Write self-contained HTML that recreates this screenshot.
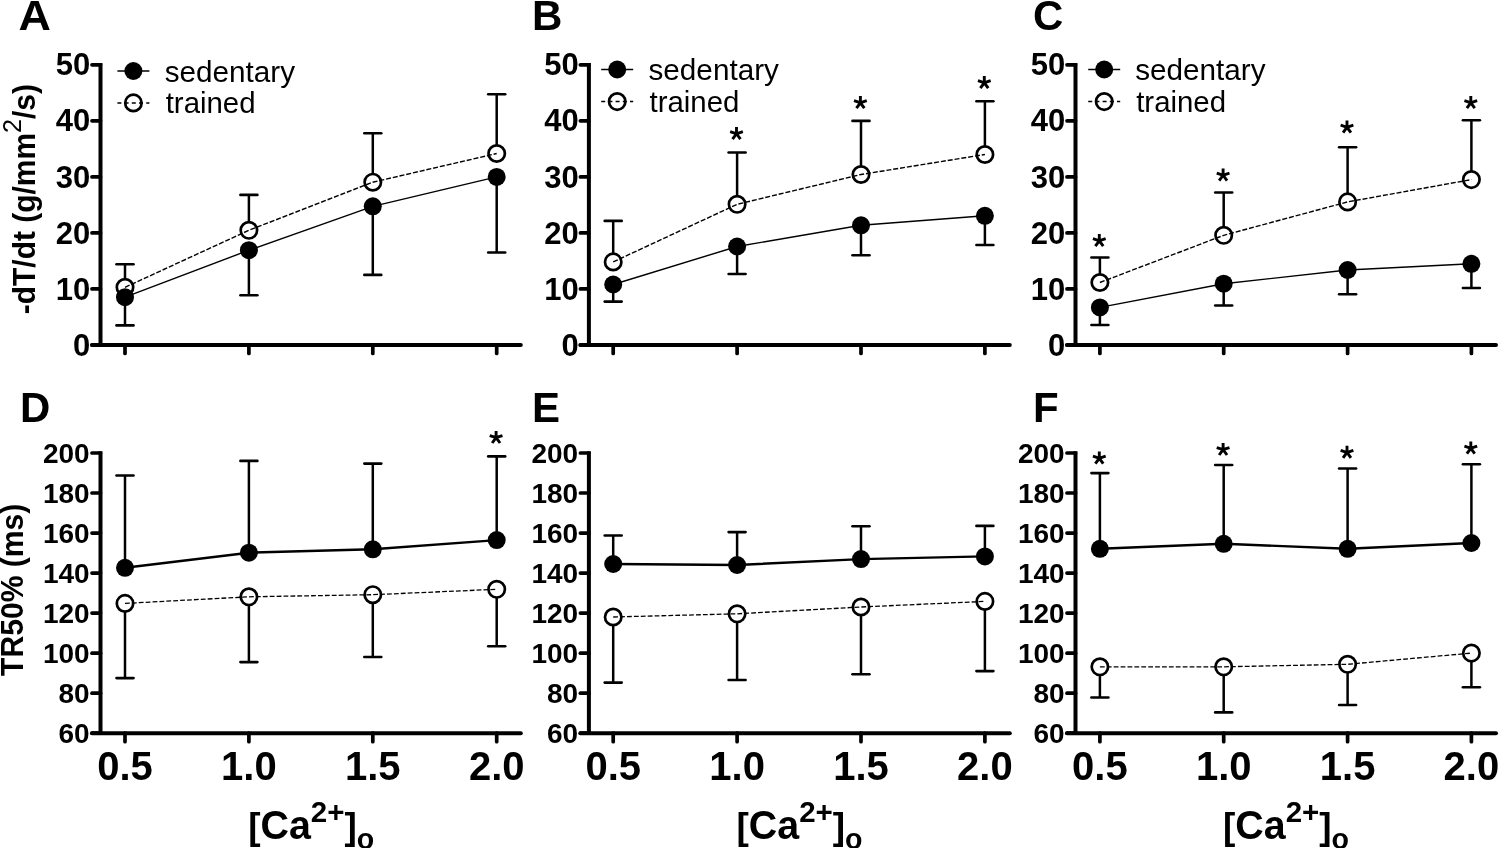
<!DOCTYPE html><html><head><meta charset="utf-8"><style>html,body{margin:0;padding:0;background:#fff;}svg{display:block;will-change:transform;}text{font-family:"Liberation Sans",sans-serif;fill:#000;}</style></head><body>
<svg width="1500" height="848" viewBox="0 0 1500 848">
<rect width="1500" height="848" fill="#fff"/>
<text x="532" y="30.3" font-size="42" font-weight="bold">B</text>
<text x="1033" y="30.4" font-size="42" font-weight="bold">C</text>
<text x="20" y="422.3" font-size="42" font-weight="bold">D</text>
<text x="532" y="422.3" font-size="42" font-weight="bold">E</text>
<text x="1033" y="422.3" font-size="42" font-weight="bold">F</text>
<text transform="translate(18.6,30.4) scale(1.045,1)" font-size="43" font-weight="bold">A</text>
<polyline points="125,287.3 248.9,230.3 372.8,182.2 496.7,153.5" fill="none" stroke="#000" stroke-width="1.4" stroke-dasharray="5,1.9"/>
<line x1="125" y1="279.1" x2="125" y2="264.3" stroke="#000" stroke-width="2.5"/>
<line x1="116.5" y1="264.3" x2="133.5" y2="264.3" stroke="#000" stroke-width="2.6" stroke-linecap="round"/>
<line x1="248.9" y1="222.10000000000002" x2="248.9" y2="194.9" stroke="#000" stroke-width="2.5"/>
<line x1="240.4" y1="194.9" x2="257.4" y2="194.9" stroke="#000" stroke-width="2.6" stroke-linecap="round"/>
<line x1="372.8" y1="174.0" x2="372.8" y2="133.2" stroke="#000" stroke-width="2.5"/>
<line x1="364.3" y1="133.2" x2="381.3" y2="133.2" stroke="#000" stroke-width="2.6" stroke-linecap="round"/>
<line x1="496.7" y1="145.3" x2="496.7" y2="94.2" stroke="#000" stroke-width="2.5"/>
<line x1="488.2" y1="94.2" x2="505.2" y2="94.2" stroke="#000" stroke-width="2.6" stroke-linecap="round"/>
<polyline points="125,297.2 248.9,250.2 372.8,206.3 496.7,176.9" fill="none" stroke="#000" stroke-width="1.4"/>
<line x1="125" y1="305.4" x2="125" y2="325.4" stroke="#000" stroke-width="2.5"/>
<line x1="116.5" y1="325.4" x2="133.5" y2="325.4" stroke="#000" stroke-width="2.6" stroke-linecap="round"/>
<line x1="248.9" y1="258.4" x2="248.9" y2="295.3" stroke="#000" stroke-width="2.5"/>
<line x1="240.4" y1="295.3" x2="257.4" y2="295.3" stroke="#000" stroke-width="2.6" stroke-linecap="round"/>
<line x1="372.8" y1="214.5" x2="372.8" y2="274.9" stroke="#000" stroke-width="2.5"/>
<line x1="364.3" y1="274.9" x2="381.3" y2="274.9" stroke="#000" stroke-width="2.6" stroke-linecap="round"/>
<line x1="496.7" y1="185.1" x2="496.7" y2="252.5" stroke="#000" stroke-width="2.5"/>
<line x1="488.2" y1="252.5" x2="505.2" y2="252.5" stroke="#000" stroke-width="2.6" stroke-linecap="round"/>
<circle cx="125" cy="287.3" r="8.2" fill="none" stroke="#000" stroke-width="2.7"/>
<circle cx="248.9" cy="230.3" r="8.2" fill="none" stroke="#000" stroke-width="2.7"/>
<circle cx="372.8" cy="182.2" r="8.2" fill="none" stroke="#000" stroke-width="2.7"/>
<circle cx="496.7" cy="153.5" r="8.2" fill="none" stroke="#000" stroke-width="2.7"/>
<circle cx="125" cy="297.2" r="9.0" fill="#000"/>
<circle cx="248.9" cy="250.2" r="9.0" fill="#000"/>
<circle cx="372.8" cy="206.3" r="9.0" fill="#000"/>
<circle cx="496.7" cy="176.9" r="9.0" fill="#000"/>
<line x1="100.5" y1="63.000000000000014" x2="100.5" y2="345" stroke="#000" stroke-width="4.0"/>
<line x1="92.0" y1="345" x2="520.8" y2="345" stroke="#000" stroke-width="4.0" stroke-linecap="round"/>
<line x1="92.0" y1="345.0" x2="100.5" y2="345.0" stroke="#000" stroke-width="3.7" stroke-linecap="round"/>
<text x="90.3" y="355.6" font-size="31" font-weight="bold" text-anchor="end">0</text>
<line x1="92.0" y1="288.96" x2="100.5" y2="288.96" stroke="#000" stroke-width="3.7" stroke-linecap="round"/>
<text x="90.3" y="299.6" font-size="31" font-weight="bold" text-anchor="end">10</text>
<line x1="92.0" y1="232.92000000000002" x2="100.5" y2="232.92000000000002" stroke="#000" stroke-width="3.7" stroke-linecap="round"/>
<text x="90.3" y="243.5" font-size="31" font-weight="bold" text-anchor="end">20</text>
<line x1="92.0" y1="176.88" x2="100.5" y2="176.88" stroke="#000" stroke-width="3.7" stroke-linecap="round"/>
<text x="90.3" y="187.5" font-size="31" font-weight="bold" text-anchor="end">30</text>
<line x1="92.0" y1="120.84" x2="100.5" y2="120.84" stroke="#000" stroke-width="3.7" stroke-linecap="round"/>
<text x="90.3" y="131.4" font-size="31" font-weight="bold" text-anchor="end">40</text>
<line x1="92.0" y1="64.80000000000001" x2="100.5" y2="64.80000000000001" stroke="#000" stroke-width="3.7" stroke-linecap="round"/>
<text x="90.3" y="75.4" font-size="31" font-weight="bold" text-anchor="end">50</text>
<line x1="125" y1="345" x2="125" y2="353.5" stroke="#000" stroke-width="3.7" stroke-linecap="round"/>
<line x1="248.9" y1="345" x2="248.9" y2="353.5" stroke="#000" stroke-width="3.7" stroke-linecap="round"/>
<line x1="372.8" y1="345" x2="372.8" y2="353.5" stroke="#000" stroke-width="3.7" stroke-linecap="round"/>
<line x1="496.7" y1="345" x2="496.7" y2="353.5" stroke="#000" stroke-width="3.7" stroke-linecap="round"/>
<polyline points="613.2,261.9 737.1,204.3 861.0,174.5 984.9,154.5" fill="none" stroke="#000" stroke-width="1.4" stroke-dasharray="5,1.9"/>
<line x1="613.2" y1="253.7" x2="613.2" y2="220.9" stroke="#000" stroke-width="2.5"/>
<line x1="604.7" y1="220.9" x2="621.7" y2="220.9" stroke="#000" stroke-width="2.6" stroke-linecap="round"/>
<line x1="737.1" y1="196.10000000000002" x2="737.1" y2="152.5" stroke="#000" stroke-width="2.5"/>
<line x1="728.6" y1="152.5" x2="745.6" y2="152.5" stroke="#000" stroke-width="2.6" stroke-linecap="round"/>
<line x1="861.0" y1="166.3" x2="861.0" y2="120.9" stroke="#000" stroke-width="2.5"/>
<line x1="852.5" y1="120.9" x2="869.5" y2="120.9" stroke="#000" stroke-width="2.6" stroke-linecap="round"/>
<line x1="984.9" y1="146.3" x2="984.9" y2="101.3" stroke="#000" stroke-width="2.5"/>
<line x1="976.4" y1="101.3" x2="993.4" y2="101.3" stroke="#000" stroke-width="2.6" stroke-linecap="round"/>
<polyline points="613.2,284.5 737.1,246.5 861.0,225.3 984.9,215.8" fill="none" stroke="#000" stroke-width="1.4"/>
<line x1="613.2" y1="292.7" x2="613.2" y2="301.6" stroke="#000" stroke-width="2.5"/>
<line x1="604.7" y1="301.6" x2="621.7" y2="301.6" stroke="#000" stroke-width="2.6" stroke-linecap="round"/>
<line x1="737.1" y1="254.7" x2="737.1" y2="274" stroke="#000" stroke-width="2.5"/>
<line x1="728.6" y1="274" x2="745.6" y2="274" stroke="#000" stroke-width="2.6" stroke-linecap="round"/>
<line x1="861.0" y1="233.5" x2="861.0" y2="255.3" stroke="#000" stroke-width="2.5"/>
<line x1="852.5" y1="255.3" x2="869.5" y2="255.3" stroke="#000" stroke-width="2.6" stroke-linecap="round"/>
<line x1="984.9" y1="224.0" x2="984.9" y2="245" stroke="#000" stroke-width="2.5"/>
<line x1="976.4" y1="245" x2="993.4" y2="245" stroke="#000" stroke-width="2.6" stroke-linecap="round"/>
<circle cx="613.2" cy="261.9" r="8.2" fill="none" stroke="#000" stroke-width="2.7"/>
<circle cx="737.1" cy="204.3" r="8.2" fill="none" stroke="#000" stroke-width="2.7"/>
<circle cx="861.0" cy="174.5" r="8.2" fill="none" stroke="#000" stroke-width="2.7"/>
<circle cx="984.9" cy="154.5" r="8.2" fill="none" stroke="#000" stroke-width="2.7"/>
<circle cx="613.2" cy="284.5" r="9.0" fill="#000"/>
<circle cx="737.1" cy="246.5" r="9.0" fill="#000"/>
<circle cx="861.0" cy="225.3" r="9.0" fill="#000"/>
<circle cx="984.9" cy="215.8" r="9.0" fill="#000"/>
<path d="M736.50 134.90L736.50 127.00M735.36 134.07L742.87 131.63M735.79 132.73L740.44 139.12M737.21 132.73L732.56 139.12M737.64 134.07L730.13 131.63" stroke="#000" stroke-width="2.9" fill="none"/>
<path d="M860.40 104.00L860.40 96.10M859.26 103.17L866.77 100.73M859.69 101.83L864.34 108.22M861.11 101.83L856.46 108.22M861.54 103.17L854.03 100.73" stroke="#000" stroke-width="2.9" fill="none"/>
<path d="M984.30 84.00L984.30 76.10M983.16 83.17L990.67 80.73M983.59 81.83L988.24 88.22M985.01 81.83L980.36 88.22M985.44 83.17L977.93 80.73" stroke="#000" stroke-width="2.9" fill="none"/>
<line x1="588.9" y1="63.000000000000014" x2="588.9" y2="345" stroke="#000" stroke-width="4.0"/>
<line x1="580.4" y1="345" x2="1009.8" y2="345" stroke="#000" stroke-width="4.0" stroke-linecap="round"/>
<line x1="580.4" y1="345.0" x2="588.9" y2="345.0" stroke="#000" stroke-width="3.7" stroke-linecap="round"/>
<text x="578.7" y="355.6" font-size="31" font-weight="bold" text-anchor="end">0</text>
<line x1="580.4" y1="288.96" x2="588.9" y2="288.96" stroke="#000" stroke-width="3.7" stroke-linecap="round"/>
<text x="578.7" y="299.6" font-size="31" font-weight="bold" text-anchor="end">10</text>
<line x1="580.4" y1="232.92000000000002" x2="588.9" y2="232.92000000000002" stroke="#000" stroke-width="3.7" stroke-linecap="round"/>
<text x="578.7" y="243.5" font-size="31" font-weight="bold" text-anchor="end">20</text>
<line x1="580.4" y1="176.88" x2="588.9" y2="176.88" stroke="#000" stroke-width="3.7" stroke-linecap="round"/>
<text x="578.7" y="187.5" font-size="31" font-weight="bold" text-anchor="end">30</text>
<line x1="580.4" y1="120.84" x2="588.9" y2="120.84" stroke="#000" stroke-width="3.7" stroke-linecap="round"/>
<text x="578.7" y="131.4" font-size="31" font-weight="bold" text-anchor="end">40</text>
<line x1="580.4" y1="64.80000000000001" x2="588.9" y2="64.80000000000001" stroke="#000" stroke-width="3.7" stroke-linecap="round"/>
<text x="578.7" y="75.4" font-size="31" font-weight="bold" text-anchor="end">50</text>
<line x1="613.2" y1="345" x2="613.2" y2="353.5" stroke="#000" stroke-width="3.7" stroke-linecap="round"/>
<line x1="737.1" y1="345" x2="737.1" y2="353.5" stroke="#000" stroke-width="3.7" stroke-linecap="round"/>
<line x1="861.0" y1="345" x2="861.0" y2="353.5" stroke="#000" stroke-width="3.7" stroke-linecap="round"/>
<line x1="984.9" y1="345" x2="984.9" y2="353.5" stroke="#000" stroke-width="3.7" stroke-linecap="round"/>
<polyline points="1099.9,282.5 1223.7,235.3 1347.6,201.9 1471.4,179.6" fill="none" stroke="#000" stroke-width="1.4" stroke-dasharray="5,1.9"/>
<line x1="1099.9" y1="274.3" x2="1099.9" y2="257.5" stroke="#000" stroke-width="2.5"/>
<line x1="1091.4" y1="257.5" x2="1108.4" y2="257.5" stroke="#000" stroke-width="2.6" stroke-linecap="round"/>
<line x1="1223.7" y1="227.10000000000002" x2="1223.7" y2="192.5" stroke="#000" stroke-width="2.5"/>
<line x1="1215.2" y1="192.5" x2="1232.2" y2="192.5" stroke="#000" stroke-width="2.6" stroke-linecap="round"/>
<line x1="1347.6" y1="193.70000000000002" x2="1347.6" y2="147.3" stroke="#000" stroke-width="2.5"/>
<line x1="1339.1" y1="147.3" x2="1356.1" y2="147.3" stroke="#000" stroke-width="2.6" stroke-linecap="round"/>
<line x1="1471.4" y1="171.4" x2="1471.4" y2="120.3" stroke="#000" stroke-width="2.5"/>
<line x1="1462.9" y1="120.3" x2="1479.9" y2="120.3" stroke="#000" stroke-width="2.6" stroke-linecap="round"/>
<polyline points="1099.9,307.4 1223.7,283.7 1347.6,270 1471.4,263.8" fill="none" stroke="#000" stroke-width="1.4"/>
<line x1="1099.9" y1="315.59999999999997" x2="1099.9" y2="325" stroke="#000" stroke-width="2.5"/>
<line x1="1091.4" y1="325" x2="1108.4" y2="325" stroke="#000" stroke-width="2.6" stroke-linecap="round"/>
<line x1="1223.7" y1="291.9" x2="1223.7" y2="305.5" stroke="#000" stroke-width="2.5"/>
<line x1="1215.2" y1="305.5" x2="1232.2" y2="305.5" stroke="#000" stroke-width="2.6" stroke-linecap="round"/>
<line x1="1347.6" y1="278.2" x2="1347.6" y2="294.3" stroke="#000" stroke-width="2.5"/>
<line x1="1339.1" y1="294.3" x2="1356.1" y2="294.3" stroke="#000" stroke-width="2.6" stroke-linecap="round"/>
<line x1="1471.4" y1="272.0" x2="1471.4" y2="288" stroke="#000" stroke-width="2.5"/>
<line x1="1462.9" y1="288" x2="1479.9" y2="288" stroke="#000" stroke-width="2.6" stroke-linecap="round"/>
<circle cx="1099.9" cy="282.5" r="8.2" fill="none" stroke="#000" stroke-width="2.7"/>
<circle cx="1223.7" cy="235.3" r="8.2" fill="none" stroke="#000" stroke-width="2.7"/>
<circle cx="1347.6" cy="201.9" r="8.2" fill="none" stroke="#000" stroke-width="2.7"/>
<circle cx="1471.4" cy="179.6" r="8.2" fill="none" stroke="#000" stroke-width="2.7"/>
<circle cx="1099.9" cy="307.4" r="9.0" fill="#000"/>
<circle cx="1223.7" cy="283.7" r="9.0" fill="#000"/>
<circle cx="1347.6" cy="270" r="9.0" fill="#000"/>
<circle cx="1471.4" cy="263.8" r="9.0" fill="#000"/>
<path d="M1099.30 242.00L1099.30 234.10M1098.16 241.17L1105.67 238.73M1098.59 239.83L1103.24 246.22M1100.01 239.83L1095.36 246.22M1100.44 241.17L1092.93 238.73" stroke="#000" stroke-width="2.9" fill="none"/>
<path d="M1223.10 176.40L1223.10 168.50M1221.96 175.57L1229.47 173.13M1222.39 174.23L1227.04 180.62M1223.81 174.23L1219.16 180.62M1224.24 175.57L1216.73 173.13" stroke="#000" stroke-width="2.9" fill="none"/>
<path d="M1347.00 128.50L1347.00 120.60M1345.86 127.67L1353.37 125.23M1346.29 126.33L1350.94 132.72M1347.71 126.33L1343.06 132.72M1348.14 127.67L1340.63 125.23" stroke="#000" stroke-width="2.9" fill="none"/>
<path d="M1470.80 104.00L1470.80 96.10M1469.66 103.17L1477.17 100.73M1470.09 101.83L1474.74 108.22M1471.51 101.83L1466.86 108.22M1471.94 103.17L1464.43 100.73" stroke="#000" stroke-width="2.9" fill="none"/>
<line x1="1075.5" y1="63.000000000000014" x2="1075.5" y2="345" stroke="#000" stroke-width="4.0"/>
<line x1="1067.0" y1="345" x2="1496" y2="345" stroke="#000" stroke-width="4.0" stroke-linecap="round"/>
<line x1="1067.0" y1="345.0" x2="1075.5" y2="345.0" stroke="#000" stroke-width="3.7" stroke-linecap="round"/>
<text x="1065.3" y="355.6" font-size="31" font-weight="bold" text-anchor="end">0</text>
<line x1="1067.0" y1="288.96" x2="1075.5" y2="288.96" stroke="#000" stroke-width="3.7" stroke-linecap="round"/>
<text x="1065.3" y="299.6" font-size="31" font-weight="bold" text-anchor="end">10</text>
<line x1="1067.0" y1="232.92000000000002" x2="1075.5" y2="232.92000000000002" stroke="#000" stroke-width="3.7" stroke-linecap="round"/>
<text x="1065.3" y="243.5" font-size="31" font-weight="bold" text-anchor="end">20</text>
<line x1="1067.0" y1="176.88" x2="1075.5" y2="176.88" stroke="#000" stroke-width="3.7" stroke-linecap="round"/>
<text x="1065.3" y="187.5" font-size="31" font-weight="bold" text-anchor="end">30</text>
<line x1="1067.0" y1="120.84" x2="1075.5" y2="120.84" stroke="#000" stroke-width="3.7" stroke-linecap="round"/>
<text x="1065.3" y="131.4" font-size="31" font-weight="bold" text-anchor="end">40</text>
<line x1="1067.0" y1="64.80000000000001" x2="1075.5" y2="64.80000000000001" stroke="#000" stroke-width="3.7" stroke-linecap="round"/>
<text x="1065.3" y="75.4" font-size="31" font-weight="bold" text-anchor="end">50</text>
<line x1="1099.9" y1="345" x2="1099.9" y2="353.5" stroke="#000" stroke-width="3.7" stroke-linecap="round"/>
<line x1="1223.7" y1="345" x2="1223.7" y2="353.5" stroke="#000" stroke-width="3.7" stroke-linecap="round"/>
<line x1="1347.6" y1="345" x2="1347.6" y2="353.5" stroke="#000" stroke-width="3.7" stroke-linecap="round"/>
<line x1="1471.4" y1="345" x2="1471.4" y2="353.5" stroke="#000" stroke-width="3.7" stroke-linecap="round"/>
<polyline points="125,603.4 248.9,596.8 372.8,594.7 496.7,589.3" fill="none" stroke="#000" stroke-width="1.3" stroke-dasharray="4.8,2.1"/>
<line x1="125" y1="611.6" x2="125" y2="678.1" stroke="#000" stroke-width="2.5"/>
<line x1="116.5" y1="678.1" x2="133.5" y2="678.1" stroke="#000" stroke-width="2.6" stroke-linecap="round"/>
<line x1="248.9" y1="605.0" x2="248.9" y2="662.1" stroke="#000" stroke-width="2.5"/>
<line x1="240.4" y1="662.1" x2="257.4" y2="662.1" stroke="#000" stroke-width="2.6" stroke-linecap="round"/>
<line x1="372.8" y1="602.9000000000001" x2="372.8" y2="657" stroke="#000" stroke-width="2.5"/>
<line x1="364.3" y1="657" x2="381.3" y2="657" stroke="#000" stroke-width="2.6" stroke-linecap="round"/>
<line x1="496.7" y1="597.5" x2="496.7" y2="646.2" stroke="#000" stroke-width="2.5"/>
<line x1="488.2" y1="646.2" x2="505.2" y2="646.2" stroke="#000" stroke-width="2.6" stroke-linecap="round"/>
<polyline points="125,567.8 248.9,552.7 372.8,549.3 496.7,540.1" fill="none" stroke="#000" stroke-width="2.4"/>
<line x1="125" y1="559.5999999999999" x2="125" y2="475.5" stroke="#000" stroke-width="2.5"/>
<line x1="116.5" y1="475.5" x2="133.5" y2="475.5" stroke="#000" stroke-width="2.6" stroke-linecap="round"/>
<line x1="248.9" y1="544.5" x2="248.9" y2="460.9" stroke="#000" stroke-width="2.5"/>
<line x1="240.4" y1="460.9" x2="257.4" y2="460.9" stroke="#000" stroke-width="2.6" stroke-linecap="round"/>
<line x1="372.8" y1="541.0999999999999" x2="372.8" y2="463.6" stroke="#000" stroke-width="2.5"/>
<line x1="364.3" y1="463.6" x2="381.3" y2="463.6" stroke="#000" stroke-width="2.6" stroke-linecap="round"/>
<line x1="496.7" y1="531.9" x2="496.7" y2="456.4" stroke="#000" stroke-width="2.5"/>
<line x1="488.2" y1="456.4" x2="505.2" y2="456.4" stroke="#000" stroke-width="2.6" stroke-linecap="round"/>
<circle cx="125" cy="603.4" r="8.2" fill="none" stroke="#000" stroke-width="2.7"/>
<circle cx="248.9" cy="596.8" r="8.2" fill="none" stroke="#000" stroke-width="2.7"/>
<circle cx="372.8" cy="594.7" r="8.2" fill="none" stroke="#000" stroke-width="2.7"/>
<circle cx="496.7" cy="589.3" r="8.2" fill="none" stroke="#000" stroke-width="2.7"/>
<circle cx="125" cy="567.8" r="9.0" fill="#000"/>
<circle cx="248.9" cy="552.7" r="9.0" fill="#000"/>
<circle cx="372.8" cy="549.3" r="9.0" fill="#000"/>
<circle cx="496.7" cy="540.1" r="9.0" fill="#000"/>
<path d="M496.10 438.80L496.10 430.90M494.96 437.97L502.47 435.53M495.39 436.63L500.04 443.02M496.81 436.63L492.16 443.02M497.24 437.97L489.73 435.53" stroke="#000" stroke-width="2.9" fill="none"/>
<line x1="100.5" y1="451.19" x2="100.5" y2="733.2" stroke="#000" stroke-width="4.0"/>
<line x1="92.0" y1="733.2" x2="520.8" y2="733.2" stroke="#000" stroke-width="4.0" stroke-linecap="round"/>
<line x1="92.0" y1="733.2" x2="100.5" y2="733.2" stroke="#000" stroke-width="3.7" stroke-linecap="round"/>
<text x="89.7" y="743.2" font-size="28" font-weight="bold" text-anchor="end">60</text>
<line x1="92.0" y1="693.1700000000001" x2="100.5" y2="693.1700000000001" stroke="#000" stroke-width="3.7" stroke-linecap="round"/>
<text x="89.7" y="703.2" font-size="28" font-weight="bold" text-anchor="end">80</text>
<line x1="92.0" y1="653.1400000000001" x2="100.5" y2="653.1400000000001" stroke="#000" stroke-width="3.7" stroke-linecap="round"/>
<text x="89.7" y="663.2" font-size="28" font-weight="bold" text-anchor="end">100</text>
<line x1="92.0" y1="613.11" x2="100.5" y2="613.11" stroke="#000" stroke-width="3.7" stroke-linecap="round"/>
<text x="89.7" y="623.1" font-size="28" font-weight="bold" text-anchor="end">120</text>
<line x1="92.0" y1="573.08" x2="100.5" y2="573.08" stroke="#000" stroke-width="3.7" stroke-linecap="round"/>
<text x="89.7" y="583.1" font-size="28" font-weight="bold" text-anchor="end">140</text>
<line x1="92.0" y1="533.0500000000001" x2="100.5" y2="533.0500000000001" stroke="#000" stroke-width="3.7" stroke-linecap="round"/>
<text x="89.7" y="543.1" font-size="28" font-weight="bold" text-anchor="end">160</text>
<line x1="92.0" y1="493.02000000000004" x2="100.5" y2="493.02000000000004" stroke="#000" stroke-width="3.7" stroke-linecap="round"/>
<text x="89.7" y="503.0" font-size="28" font-weight="bold" text-anchor="end">180</text>
<line x1="92.0" y1="452.99" x2="100.5" y2="452.99" stroke="#000" stroke-width="3.7" stroke-linecap="round"/>
<text x="89.7" y="463.0" font-size="28" font-weight="bold" text-anchor="end">200</text>
<line x1="125" y1="733.2" x2="125" y2="741.7" stroke="#000" stroke-width="3.7" stroke-linecap="round"/>
<line x1="248.9" y1="733.2" x2="248.9" y2="741.7" stroke="#000" stroke-width="3.7" stroke-linecap="round"/>
<line x1="372.8" y1="733.2" x2="372.8" y2="741.7" stroke="#000" stroke-width="3.7" stroke-linecap="round"/>
<line x1="496.7" y1="733.2" x2="496.7" y2="741.7" stroke="#000" stroke-width="3.7" stroke-linecap="round"/>
<text x="125" y="780.0" font-size="40" font-weight="bold" text-anchor="middle">0.5</text>
<text x="248.9" y="780.0" font-size="40" font-weight="bold" text-anchor="middle">1.0</text>
<text x="372.8" y="780.0" font-size="40" font-weight="bold" text-anchor="middle">1.5</text>
<text x="496.7" y="780.0" font-size="40" font-weight="bold" text-anchor="middle">2.0</text>
<polyline points="613.2,617 737.1,613.8 861.0,607 984.9,601.4" fill="none" stroke="#000" stroke-width="1.3" stroke-dasharray="4.8,2.1"/>
<line x1="613.2" y1="625.2" x2="613.2" y2="682.6" stroke="#000" stroke-width="2.5"/>
<line x1="604.7" y1="682.6" x2="621.7" y2="682.6" stroke="#000" stroke-width="2.6" stroke-linecap="round"/>
<line x1="737.1" y1="622.0" x2="737.1" y2="680" stroke="#000" stroke-width="2.5"/>
<line x1="728.6" y1="680" x2="745.6" y2="680" stroke="#000" stroke-width="2.6" stroke-linecap="round"/>
<line x1="861.0" y1="615.2" x2="861.0" y2="674.3" stroke="#000" stroke-width="2.5"/>
<line x1="852.5" y1="674.3" x2="869.5" y2="674.3" stroke="#000" stroke-width="2.6" stroke-linecap="round"/>
<line x1="984.9" y1="609.6" x2="984.9" y2="671.1" stroke="#000" stroke-width="2.5"/>
<line x1="976.4" y1="671.1" x2="993.4" y2="671.1" stroke="#000" stroke-width="2.6" stroke-linecap="round"/>
<polyline points="613.2,564 737.1,565 861.0,559.1 984.9,556.4" fill="none" stroke="#000" stroke-width="2.4"/>
<line x1="613.2" y1="555.8" x2="613.2" y2="535.5" stroke="#000" stroke-width="2.5"/>
<line x1="604.7" y1="535.5" x2="621.7" y2="535.5" stroke="#000" stroke-width="2.6" stroke-linecap="round"/>
<line x1="737.1" y1="556.8" x2="737.1" y2="532.1" stroke="#000" stroke-width="2.5"/>
<line x1="728.6" y1="532.1" x2="745.6" y2="532.1" stroke="#000" stroke-width="2.6" stroke-linecap="round"/>
<line x1="861.0" y1="550.9" x2="861.0" y2="526.3" stroke="#000" stroke-width="2.5"/>
<line x1="852.5" y1="526.3" x2="869.5" y2="526.3" stroke="#000" stroke-width="2.6" stroke-linecap="round"/>
<line x1="984.9" y1="548.1999999999999" x2="984.9" y2="525.9" stroke="#000" stroke-width="2.5"/>
<line x1="976.4" y1="525.9" x2="993.4" y2="525.9" stroke="#000" stroke-width="2.6" stroke-linecap="round"/>
<circle cx="613.2" cy="617" r="8.2" fill="none" stroke="#000" stroke-width="2.7"/>
<circle cx="737.1" cy="613.8" r="8.2" fill="none" stroke="#000" stroke-width="2.7"/>
<circle cx="861.0" cy="607" r="8.2" fill="none" stroke="#000" stroke-width="2.7"/>
<circle cx="984.9" cy="601.4" r="8.2" fill="none" stroke="#000" stroke-width="2.7"/>
<circle cx="613.2" cy="564" r="9.0" fill="#000"/>
<circle cx="737.1" cy="565" r="9.0" fill="#000"/>
<circle cx="861.0" cy="559.1" r="9.0" fill="#000"/>
<circle cx="984.9" cy="556.4" r="9.0" fill="#000"/>
<line x1="588.9" y1="451.19" x2="588.9" y2="733.2" stroke="#000" stroke-width="4.0"/>
<line x1="580.4" y1="733.2" x2="1009.8" y2="733.2" stroke="#000" stroke-width="4.0" stroke-linecap="round"/>
<line x1="580.4" y1="733.2" x2="588.9" y2="733.2" stroke="#000" stroke-width="3.7" stroke-linecap="round"/>
<text x="578.1" y="743.2" font-size="28" font-weight="bold" text-anchor="end">60</text>
<line x1="580.4" y1="693.1700000000001" x2="588.9" y2="693.1700000000001" stroke="#000" stroke-width="3.7" stroke-linecap="round"/>
<text x="578.1" y="703.2" font-size="28" font-weight="bold" text-anchor="end">80</text>
<line x1="580.4" y1="653.1400000000001" x2="588.9" y2="653.1400000000001" stroke="#000" stroke-width="3.7" stroke-linecap="round"/>
<text x="578.1" y="663.2" font-size="28" font-weight="bold" text-anchor="end">100</text>
<line x1="580.4" y1="613.11" x2="588.9" y2="613.11" stroke="#000" stroke-width="3.7" stroke-linecap="round"/>
<text x="578.1" y="623.1" font-size="28" font-weight="bold" text-anchor="end">120</text>
<line x1="580.4" y1="573.08" x2="588.9" y2="573.08" stroke="#000" stroke-width="3.7" stroke-linecap="round"/>
<text x="578.1" y="583.1" font-size="28" font-weight="bold" text-anchor="end">140</text>
<line x1="580.4" y1="533.0500000000001" x2="588.9" y2="533.0500000000001" stroke="#000" stroke-width="3.7" stroke-linecap="round"/>
<text x="578.1" y="543.1" font-size="28" font-weight="bold" text-anchor="end">160</text>
<line x1="580.4" y1="493.02000000000004" x2="588.9" y2="493.02000000000004" stroke="#000" stroke-width="3.7" stroke-linecap="round"/>
<text x="578.1" y="503.0" font-size="28" font-weight="bold" text-anchor="end">180</text>
<line x1="580.4" y1="452.99" x2="588.9" y2="452.99" stroke="#000" stroke-width="3.7" stroke-linecap="round"/>
<text x="578.1" y="463.0" font-size="28" font-weight="bold" text-anchor="end">200</text>
<line x1="613.2" y1="733.2" x2="613.2" y2="741.7" stroke="#000" stroke-width="3.7" stroke-linecap="round"/>
<line x1="737.1" y1="733.2" x2="737.1" y2="741.7" stroke="#000" stroke-width="3.7" stroke-linecap="round"/>
<line x1="861.0" y1="733.2" x2="861.0" y2="741.7" stroke="#000" stroke-width="3.7" stroke-linecap="round"/>
<line x1="984.9" y1="733.2" x2="984.9" y2="741.7" stroke="#000" stroke-width="3.7" stroke-linecap="round"/>
<text x="613.2" y="780.0" font-size="40" font-weight="bold" text-anchor="middle">0.5</text>
<text x="737.1" y="780.0" font-size="40" font-weight="bold" text-anchor="middle">1.0</text>
<text x="861.0" y="780.0" font-size="40" font-weight="bold" text-anchor="middle">1.5</text>
<text x="984.9" y="780.0" font-size="40" font-weight="bold" text-anchor="middle">2.0</text>
<polyline points="1099.9,666.8 1223.7,666.8 1347.6,664.3 1471.4,653.1" fill="none" stroke="#000" stroke-width="1.3" stroke-dasharray="4.8,2.1"/>
<line x1="1099.9" y1="675.0" x2="1099.9" y2="697.5" stroke="#000" stroke-width="2.5"/>
<line x1="1091.4" y1="697.5" x2="1108.4" y2="697.5" stroke="#000" stroke-width="2.6" stroke-linecap="round"/>
<line x1="1223.7" y1="675.0" x2="1223.7" y2="712.4" stroke="#000" stroke-width="2.5"/>
<line x1="1215.2" y1="712.4" x2="1232.2" y2="712.4" stroke="#000" stroke-width="2.6" stroke-linecap="round"/>
<line x1="1347.6" y1="672.5" x2="1347.6" y2="705" stroke="#000" stroke-width="2.5"/>
<line x1="1339.1" y1="705" x2="1356.1" y2="705" stroke="#000" stroke-width="2.6" stroke-linecap="round"/>
<line x1="1471.4" y1="661.3000000000001" x2="1471.4" y2="687.3" stroke="#000" stroke-width="2.5"/>
<line x1="1462.9" y1="687.3" x2="1479.9" y2="687.3" stroke="#000" stroke-width="2.6" stroke-linecap="round"/>
<polyline points="1099.9,548.8 1223.7,543.8 1347.6,548.8 1471.4,543" fill="none" stroke="#000" stroke-width="2.4"/>
<line x1="1099.9" y1="540.5999999999999" x2="1099.9" y2="473.1" stroke="#000" stroke-width="2.5"/>
<line x1="1091.4" y1="473.1" x2="1108.4" y2="473.1" stroke="#000" stroke-width="2.6" stroke-linecap="round"/>
<line x1="1223.7" y1="535.5999999999999" x2="1223.7" y2="465" stroke="#000" stroke-width="2.5"/>
<line x1="1215.2" y1="465" x2="1232.2" y2="465" stroke="#000" stroke-width="2.6" stroke-linecap="round"/>
<line x1="1347.6" y1="540.5999999999999" x2="1347.6" y2="468.5" stroke="#000" stroke-width="2.5"/>
<line x1="1339.1" y1="468.5" x2="1356.1" y2="468.5" stroke="#000" stroke-width="2.6" stroke-linecap="round"/>
<line x1="1471.4" y1="534.8" x2="1471.4" y2="464.2" stroke="#000" stroke-width="2.5"/>
<line x1="1462.9" y1="464.2" x2="1479.9" y2="464.2" stroke="#000" stroke-width="2.6" stroke-linecap="round"/>
<circle cx="1099.9" cy="666.8" r="8.2" fill="none" stroke="#000" stroke-width="2.7"/>
<circle cx="1223.7" cy="666.8" r="8.2" fill="none" stroke="#000" stroke-width="2.7"/>
<circle cx="1347.6" cy="664.3" r="8.2" fill="none" stroke="#000" stroke-width="2.7"/>
<circle cx="1471.4" cy="653.1" r="8.2" fill="none" stroke="#000" stroke-width="2.7"/>
<circle cx="1099.9" cy="548.8" r="9.0" fill="#000"/>
<circle cx="1223.7" cy="543.8" r="9.0" fill="#000"/>
<circle cx="1347.6" cy="548.8" r="9.0" fill="#000"/>
<circle cx="1471.4" cy="543" r="9.0" fill="#000"/>
<path d="M1099.30 459.50L1099.30 451.60M1098.16 458.67L1105.67 456.23M1098.59 457.33L1103.24 463.72M1100.01 457.33L1095.36 463.72M1100.44 458.67L1092.93 456.23" stroke="#000" stroke-width="2.9" fill="none"/>
<path d="M1223.10 450.80L1223.10 442.90M1221.96 449.97L1229.47 447.53M1222.39 448.63L1227.04 455.02M1223.81 448.63L1219.16 455.02M1224.24 449.97L1216.73 447.53" stroke="#000" stroke-width="2.9" fill="none"/>
<path d="M1347.00 453.60L1347.00 445.70M1345.86 452.77L1353.37 450.33M1346.29 451.43L1350.94 457.82M1347.71 451.43L1343.06 457.82M1348.14 452.77L1340.63 450.33" stroke="#000" stroke-width="2.9" fill="none"/>
<path d="M1470.80 449.50L1470.80 441.60M1469.66 448.67L1477.17 446.23M1470.09 447.33L1474.74 453.72M1471.51 447.33L1466.86 453.72M1471.94 448.67L1464.43 446.23" stroke="#000" stroke-width="2.9" fill="none"/>
<line x1="1075.5" y1="451.19" x2="1075.5" y2="733.2" stroke="#000" stroke-width="4.0"/>
<line x1="1067.0" y1="733.2" x2="1496" y2="733.2" stroke="#000" stroke-width="4.0" stroke-linecap="round"/>
<line x1="1067.0" y1="733.2" x2="1075.5" y2="733.2" stroke="#000" stroke-width="3.7" stroke-linecap="round"/>
<text x="1064.7" y="743.2" font-size="28" font-weight="bold" text-anchor="end">60</text>
<line x1="1067.0" y1="693.1700000000001" x2="1075.5" y2="693.1700000000001" stroke="#000" stroke-width="3.7" stroke-linecap="round"/>
<text x="1064.7" y="703.2" font-size="28" font-weight="bold" text-anchor="end">80</text>
<line x1="1067.0" y1="653.1400000000001" x2="1075.5" y2="653.1400000000001" stroke="#000" stroke-width="3.7" stroke-linecap="round"/>
<text x="1064.7" y="663.2" font-size="28" font-weight="bold" text-anchor="end">100</text>
<line x1="1067.0" y1="613.11" x2="1075.5" y2="613.11" stroke="#000" stroke-width="3.7" stroke-linecap="round"/>
<text x="1064.7" y="623.1" font-size="28" font-weight="bold" text-anchor="end">120</text>
<line x1="1067.0" y1="573.08" x2="1075.5" y2="573.08" stroke="#000" stroke-width="3.7" stroke-linecap="round"/>
<text x="1064.7" y="583.1" font-size="28" font-weight="bold" text-anchor="end">140</text>
<line x1="1067.0" y1="533.0500000000001" x2="1075.5" y2="533.0500000000001" stroke="#000" stroke-width="3.7" stroke-linecap="round"/>
<text x="1064.7" y="543.1" font-size="28" font-weight="bold" text-anchor="end">160</text>
<line x1="1067.0" y1="493.02000000000004" x2="1075.5" y2="493.02000000000004" stroke="#000" stroke-width="3.7" stroke-linecap="round"/>
<text x="1064.7" y="503.0" font-size="28" font-weight="bold" text-anchor="end">180</text>
<line x1="1067.0" y1="452.99" x2="1075.5" y2="452.99" stroke="#000" stroke-width="3.7" stroke-linecap="round"/>
<text x="1064.7" y="463.0" font-size="28" font-weight="bold" text-anchor="end">200</text>
<line x1="1099.9" y1="733.2" x2="1099.9" y2="741.7" stroke="#000" stroke-width="3.7" stroke-linecap="round"/>
<line x1="1223.7" y1="733.2" x2="1223.7" y2="741.7" stroke="#000" stroke-width="3.7" stroke-linecap="round"/>
<line x1="1347.6" y1="733.2" x2="1347.6" y2="741.7" stroke="#000" stroke-width="3.7" stroke-linecap="round"/>
<line x1="1471.4" y1="733.2" x2="1471.4" y2="741.7" stroke="#000" stroke-width="3.7" stroke-linecap="round"/>
<text x="1099.9" y="780.0" font-size="40" font-weight="bold" text-anchor="middle">0.5</text>
<text x="1223.7" y="780.0" font-size="40" font-weight="bold" text-anchor="middle">1.0</text>
<text x="1347.6" y="780.0" font-size="40" font-weight="bold" text-anchor="middle">1.5</text>
<text x="1471.4" y="780.0" font-size="40" font-weight="bold" text-anchor="middle">2.0</text>
<line x1="117.4" y1="71" x2="149.4" y2="71" stroke="#000" stroke-width="1.6"/>
<circle cx="133.4" cy="71" r="9.0" fill="#000"/>
<line x1="117.4" y1="102.9" x2="149.4" y2="102.9" stroke="#000" stroke-width="1.5" stroke-dasharray="4,3.2"/>
<circle cx="133.4" cy="102.9" r="8.2" fill="none" stroke="#000" stroke-width="2.7"/>
<text transform="translate(164.7,81.7) scale(0.99,1)" font-size="30">sedentary</text>
<text transform="translate(165.7,112.7) scale(0.98,1)" font-size="30">trained</text>
<line x1="601.2" y1="69.5" x2="633.2" y2="69.5" stroke="#000" stroke-width="1.6"/>
<circle cx="617.2" cy="69.5" r="9.0" fill="#000"/>
<line x1="601.2" y1="101.6" x2="633.2" y2="101.6" stroke="#000" stroke-width="1.5" stroke-dasharray="4,3.2"/>
<circle cx="617.2" cy="101.6" r="8.2" fill="none" stroke="#000" stroke-width="2.7"/>
<text transform="translate(648.5,80.4) scale(0.99,1)" font-size="30">sedentary</text>
<text transform="translate(649.5,112.1) scale(0.98,1)" font-size="30">trained</text>
<line x1="1088.2" y1="69.5" x2="1120.2" y2="69.5" stroke="#000" stroke-width="1.6"/>
<circle cx="1104.2" cy="69.5" r="9.0" fill="#000"/>
<line x1="1088.2" y1="101.6" x2="1120.2" y2="101.6" stroke="#000" stroke-width="1.5" stroke-dasharray="4,3.2"/>
<circle cx="1104.2" cy="101.6" r="8.2" fill="none" stroke="#000" stroke-width="2.7"/>
<text transform="translate(1135.2,80.4) scale(0.99,1)" font-size="30">sedentary</text>
<text transform="translate(1136.2,112.1) scale(0.98,1)" font-size="30">trained</text>
<text transform="translate(34.6,314.2) rotate(-90) scale(0.966,1)" font-size="31" font-weight="bold">-dT/dt (g/mm<tspan font-size="26" font-weight="normal" dy="-14">2</tspan><tspan dy="14">/s)</tspan></text>
<text transform="translate(22.6,676) rotate(-90) scale(0.972,1)" font-size="31" font-weight="bold">TR50% (ms)</text>
<text transform="translate(248.2,839.3) scale(0.984,1)" font-size="40" font-weight="bold"><tspan font-size="37.6">[</tspan>Ca<tspan font-size="30" dy="-17.4">2+</tspan><tspan font-size="37.6" dy="17.4">]</tspan><tspan font-size="29" dy="9.2">o</tspan></text>
<text transform="translate(736.5,839.3) scale(0.984,1)" font-size="40" font-weight="bold"><tspan font-size="37.6">[</tspan>Ca<tspan font-size="30" dy="-17.4">2+</tspan><tspan font-size="37.6" dy="17.4">]</tspan><tspan font-size="29" dy="9.2">o</tspan></text>
<text transform="translate(1223.0,839.3) scale(0.984,1)" font-size="40" font-weight="bold"><tspan font-size="37.6">[</tspan>Ca<tspan font-size="30" dy="-17.4">2+</tspan><tspan font-size="37.6" dy="17.4">]</tspan><tspan font-size="29" dy="9.2">o</tspan></text>
</svg></body></html>
